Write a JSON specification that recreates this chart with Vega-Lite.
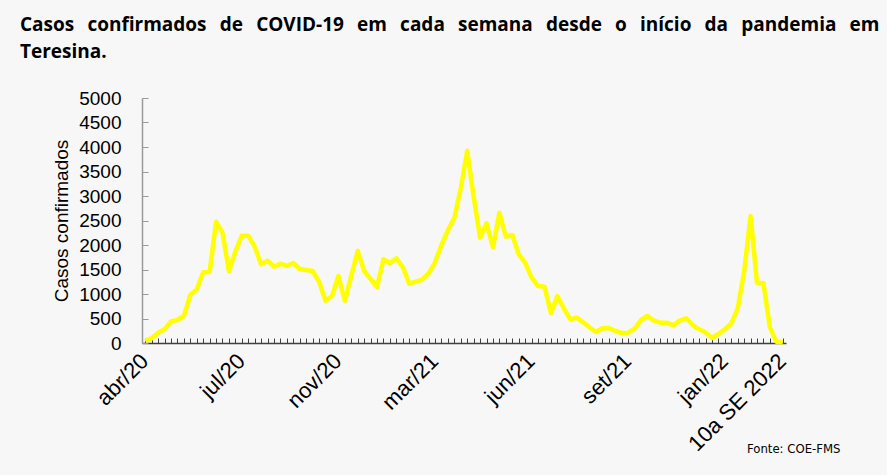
{
  "$schema": "https://vega.github.io/schema/vega-lite/v6.json",
  "autosize": {"type": "none"},
  "padding": {"left": 142, "top": 98, "right": 101, "bottom": 132},
  "width": 644,
  "height": 245,
  "background": "#f7f7f7",
  "title": {
    "text": ["Casos \u2004\u200aconfirmados \u2004\u200ade \u2004\u200aCOVID-19 \u2004\u200aem \u2004\u200acada \u2004\u200asemana \u2004\u200adesde \u2004\u200ao \u2004\u200ainício \u2004\u200ada \u2004\u200apandemia \u2004\u200aem", "Teresina."],
    "anchor": "start",
    "frame": "group",
    "font": "Open Sans",
    "fontSize": 19,
    "fontWeight": "bold",
    "color": "#000000",
    "lineHeight": 27,
    "baseline": "top",
    "dx": -122,
    "offset": 27
  },
  "data": {
    "values": [
      {"semana": 1, "casos": 47}, {"semana": 2, "casos": 96}, {"semana": 3, "casos": 211}, {"semana": 4, "casos": 279},
      {"semana": 5, "casos": 442}, {"semana": 6, "casos": 469}, {"semana": 7, "casos": 551}, {"semana": 8, "casos": 980},
      {"semana": 9, "casos": 1095}, {"semana": 10, "casos": 1443}, {"semana": 11, "casos": 1449}, {"semana": 12, "casos": 2476},
      {"semana": 13, "casos": 2251}, {"semana": 14, "casos": 1469}, {"semana": 15, "casos": 1864}, {"semana": 16, "casos": 2190},
      {"semana": 17, "casos": 2190}, {"semana": 18, "casos": 1966}, {"semana": 19, "casos": 1606}, {"semana": 20, "casos": 1680},
      {"semana": 21, "casos": 1557}, {"semana": 22, "casos": 1619}, {"semana": 23, "casos": 1572}, {"semana": 24, "casos": 1633},
      {"semana": 25, "casos": 1510}, {"semana": 26, "casos": 1490}, {"semana": 27, "casos": 1469}, {"semana": 28, "casos": 1251},
      {"semana": 29, "casos": 863}, {"semana": 30, "casos": 959}, {"semana": 31, "casos": 1367}, {"semana": 32, "casos": 857},
      {"semana": 33, "casos": 1374}, {"semana": 34, "casos": 1884}, {"semana": 35, "casos": 1469}, {"semana": 36, "casos": 1306},
      {"semana": 37, "casos": 1143}, {"semana": 38, "casos": 1714}, {"semana": 39, "casos": 1626}, {"semana": 40, "casos": 1729},
      {"semana": 41, "casos": 1545}, {"semana": 42, "casos": 1211}, {"semana": 43, "casos": 1251}, {"semana": 44, "casos": 1292},
      {"semana": 45, "casos": 1422}, {"semana": 46, "casos": 1647}, {"semana": 47, "casos": 2000}, {"semana": 48, "casos": 2300},
      {"semana": 49, "casos": 2550}, {"semana": 50, "casos": 3157}, {"semana": 51, "casos": 3925}, {"semana": 52, "casos": 2986},
      {"semana": 53, "casos": 2150}, {"semana": 54, "casos": 2443}, {"semana": 55, "casos": 1953}, {"semana": 56, "casos": 2660},
      {"semana": 57, "casos": 2170}, {"semana": 58, "casos": 2204}, {"semana": 59, "casos": 1810}, {"semana": 60, "casos": 1640},
      {"semana": 61, "casos": 1333}, {"semana": 62, "casos": 1163}, {"semana": 63, "casos": 1150}, {"semana": 64, "casos": 606},
      {"semana": 65, "casos": 959}, {"semana": 66, "casos": 708}, {"semana": 67, "casos": 483}, {"semana": 68, "casos": 517},
      {"semana": 69, "casos": 422}, {"semana": 70, "casos": 320}, {"semana": 71, "casos": 225}, {"semana": 72, "casos": 300},
      {"semana": 73, "casos": 306}, {"semana": 74, "casos": 245}, {"semana": 75, "casos": 204}, {"semana": 76, "casos": 211},
      {"semana": 77, "casos": 292}, {"semana": 78, "casos": 469}, {"semana": 79, "casos": 551}, {"semana": 80, "casos": 455},
      {"semana": 81, "casos": 415}, {"semana": 82, "casos": 415}, {"semana": 83, "casos": 361}, {"semana": 84, "casos": 455},
      {"semana": 85, "casos": 504}, {"semana": 86, "casos": 367}, {"semana": 87, "casos": 279}, {"semana": 88, "casos": 218},
      {"semana": 89, "casos": 102}, {"semana": 90, "casos": 184}, {"semana": 91, "casos": 279}, {"semana": 92, "casos": 402},
      {"semana": 93, "casos": 708}, {"semana": 94, "casos": 1455}, {"semana": 95, "casos": 2592}, {"semana": 96, "casos": 1231},
      {"semana": 97, "casos": 1218}, {"semana": 98, "casos": 320}, {"semana": 99, "casos": 27}, {"semana": 100, "casos": 14}
    ]
  },
  "mark": {"type": "line", "color": "#ffff00", "strokeWidth": 4.5, "strokeJoin": "round"},
  "encoding": {
    "x": {
      "field": "semana",
      "type": "ordinal",
      "sort": null,
      "scale": {"paddingInner": 0, "paddingOuter": 0},
      "axis": {
        "title": "Fonte: COE-FMS",
        "titleFont": "'Liberation Sans Narrow', 'DejaVu Sans Condensed', sans-serif",
        "titleFontSize": 13,
        "titleFontWeight": "normal",
        "titleColor": "#000000",
        "titleAnchor": "end",
        "titleAlign": "right",
        "titleBaseline": "middle",
        "titleX": 698,
        "titleY": 105,
        "bandPosition": 0,
        "labelExpr": "datum.value == 1 ? 'abr/20' : datum.value == 16 ? 'jul/20' : datum.value == 31 ? 'nov/20' : datum.value == 46 ? 'mar/21' : datum.value == 61 ? 'jun/21' : datum.value == 76 ? 'set/21' : datum.value == 91 ? 'jan/22' : datum.value == 100 ? '10a SE 2022' : ''",
        "labelAngle": -45,
        "labelFont": "Liberation Sans",
        "labelFontSize": 22,
        "labelColor": "#000000",
        "labelOverlap": false,
        "labelPadding": 12,
        "labelOffset": -8,
        "domainColor": "#404040",
        "domainWidth": 1.5,
        "tickColor": "#404040",
        "tickSize": -5,
        "grid": false
      }
    },
    "y": {
      "field": "casos",
      "type": "quantitative",
      "scale": {"domain": [0, 5000], "nice": false},
      "axis": {
        "title": "Casos confirmados",
        "titleFont": "Liberation Sans",
        "titleFontSize": 19,
        "titleFontWeight": "normal",
        "titleColor": "#000000",
        "titlePadding": 7,
        "values": [0, 500, 1000, 1500, 2000, 2500, 3000, 3500, 4000, 4500, 5000],
        "format": "d",
        "labelFont": "Liberation Sans",
        "labelFontSize": 19,
        "labelColor": "#000000",
        "labelPadding": 27,
        "labelOverlap": false,
        "domainColor": "#999999",
        "domainWidth": 1.5,
        "tickColor": "#999999",
        "tickSize": -6,
        "grid": false
      }
    }
  },
  "config": {"view": {"stroke": null}}
}
